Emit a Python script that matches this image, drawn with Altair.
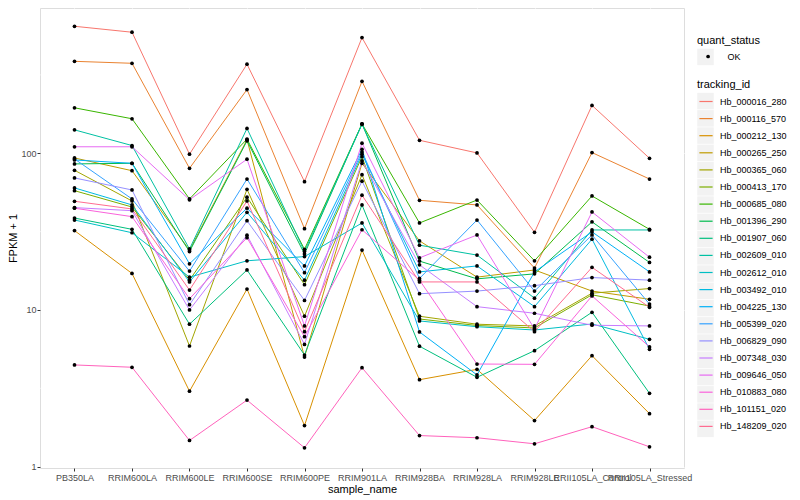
import altair as alt
import pandas as pd

samples = ["PB350LA", "RRIM600LA", "RRIM600LE", "RRIM600SE", "RRIM600PE", "RRIM901LA",
           "RRIM928BA", "RRIM928LA", "RRIM928LE", "RRII105LA_Control", "RRII105LA_Stressed"]

tracking_ids = ["Hb_000016_280", "Hb_000116_570", "Hb_000212_130", "Hb_000265_250",
                "Hb_000365_060", "Hb_000413_170", "Hb_000685_080", "Hb_001396_290",
                "Hb_001907_060", "Hb_002609_010", "Hb_002612_010", "Hb_003492_010",
                "Hb_004225_130", "Hb_005399_020", "Hb_006829_090", "Hb_007348_030",
                "Hb_009646_050", "Hb_010883_080", "Hb_101151_020", "Hb_148209_020"]

colors = ["#F8766D", "#EA8331", "#D89000", "#C09B00", "#A3A500", "#7CAE00", "#39B600",
          "#00BB4E", "#00BF7D", "#00C1A3", "#00BFC4", "#00BAE0", "#00B0F6", "#35A2FF",
          "#9590FF", "#C77CFF", "#E76BF3", "#FA62DB", "#FF62BC", "#FF6C91"]

hb_000016_280 = [646, 592, 98.6, 370, 65.9, 547, 121, 100.5, 31.3, 202, 92.9]
hb_000116_570 = [386, 375, 80.2, 255, 33.0, 288, 50.1, 46.8, 18.5, 101, 68.5]
hb_000212_130 = [32.1, 17.1, 3.03, 13.6, 1.83, 24.1, 3.59, 4.18, 1.97, 5.11, 2.18]
hb_000265_250 = [93.3, 77.4, 24.1, 122, 5.01, 86.3, 27.6, 16.2, 18.0, 13.2, 11.7]
hb_000365_060 = [77.9, 49.6, 5.89, 58.9, 9.12, 73.0, 9.12, 8.11, 7.91, 12.8, 13.7]
hb_000413_170 = [57.7, 45.4, 15.5, 52.4, 14.5, 95.1, 8.76, 7.96, 7.68, 12.5, 10.6]
hb_000685_080 = [195, 166, 51.1, 123, 24.4, 154, 35.9, 50.3, 20.6, 53.4, 32.7]
hb_001396_290 = [85.5, 86.3, 23.6, 120, 22.8, 154, 20.5, 15.8, 17.0, 36.5, 20.1]
hb_001907_060 = [38.6, 32.7, 8.11, 18.0, 5.16, 46.8, 5.87, 3.72, 5.50, 9.67, 2.94]
hb_002609_010 = [141, 112, 24.5, 144, 23.6, 153, 25.9, 22.4, 11.9, 32.4, 32.4]
hb_002612_010 = [37.5, 31.1, 16.2, 20.6, 21.9, 35.9, 8.51, 7.82, 7.45, 8.14, 6.50]
hb_003492_010 = [60.1, 46.8, 15.1, 42.0, 15.5, 98.6, 17.5, 19.1, 10.5, 28.3, 5.61]
hb_004225_130 = [90.6, 86.3, 19.7, 44.6, 19.1, 106, 7.24, 3.85, 17.5, 31.5, 17.5]
hb_005399_020 = [92.0, 51.1, 17.7, 68.5, 17.3, 102, 15.9, 37.5, 13.2, 30.1, 10.9]
hb_006829_090 = [69.6, 58.3, 10.8, 37.1, 11.5, 66.3, 12.7, 13.2, 14.3, 16.1, 15.5]
hb_007348_030 = [45.0, 43.0, 10.0, 30.0, 6.03, 89.3, 19.4, 10.5, 9.53, 7.99, 7.91]
hb_009646_050 = [110, 110, 50.5, 91.6, 7.91, 116, 21.5, 30.1, 7.57, 42.2, 21.7]
hb_010883_080 = [44.6, 39.4, 11.8, 28.9, 6.76, 32.5, 15.5, 4.52, 4.50, 12.3, 5.81]
hb_101151_020 = [4.46, 4.31, 1.47, 2.66, 1.32, 4.28, 1.58, 1.53, 1.40, 1.80, 1.34]
hb_148209_020 = [49.4, 44.1, 13.4, 49.6, 7.27, 54.0, 15.1, 15.1, 7.27, 18.7, 10.4]

series = [hb_000016_280, hb_000116_570, hb_000212_130, hb_000265_250, hb_000365_060,
          hb_000413_170, hb_000685_080, hb_001396_290, hb_001907_060, hb_002609_010,
          hb_002612_010, hb_003492_010, hb_004225_130, hb_005399_020, hb_006829_090,
          hb_007348_030, hb_009646_050, hb_010883_080, hb_101151_020, hb_148209_020]

major_breaks = [1, 10, 100]
minor_breaks = [3.1623, 31.623, 316.23]

rows = []
for tid, vals in zip(tracking_ids, series):
    for s, v in zip(samples, vals):
        rows.append({"sample_name": s, "tracking_id": tid, "fpkm1": v, "quant_status": "OK",
                     "tid_key": tid, "qs_key": "OK"})
df = pd.DataFrame(rows)
minor_df = pd.DataFrame({"v": minor_breaks})

FONT = "Liberation Sans"
KEY_GREY = "#F2F2F2"

x_enc = alt.X("sample_name:N", sort=samples,
              scale=alt.Scale(type="point", padding=0.6),
              axis=alt.Axis(title="sample_name", labelAngle=0, grid=True, gridColor="white",
                            gridWidth=1.07, domain=False, tickColor="#333333", tickSize=3,
                            tickWidth=1, labelColor="#4D4D4D", labelFontSize=9, labelPadding=2,
                            labelOverlap=False, labelFlush=False, labelBound=False,
                            titleFontSize=11, titleFontWeight="normal", titleColor="black",
                            titlePadding=1, labelFont=FONT, titleFont=FONT))
y_scale = alt.Scale(type="log", domain=[0.981, 845], nice=False)
y_enc = alt.Y("fpkm1:Q", scale=y_scale,
              axis=alt.Axis(title="FPKM + 1", values=major_breaks, format="d", grid=True,
                            gridColor="white", gridWidth=1.07, domain=False,
                            tickColor="#333333", tickSize=3, tickWidth=1,
                            labelColor="#4D4D4D", labelFontSize=9, labelPadding=1,
                            titleFontSize=11, titleFontWeight="normal", titleColor="black",
                            titlePadding=2, labelFont=FONT, titleFont=FONT))

common_legend = dict(orient="none", labelFontSize=9, labelColor="black", labelFont=FONT,
                     titleFont=FONT, titleFontSize=11, titleFontWeight="normal",
                     titleColor="black", padding=0)

minor = alt.Chart(minor_df).mark_rule(color="white", strokeWidth=0.55).encode(
    y=alt.Y("v:Q", scale=y_scale)
)

# grey key backgrounds (legend only, no marks drawn)
grey_tid = alt.Chart(df).transform_filter("false").mark_square(filled=True, opacity=1).encode(
    fill=alt.Fill("tid_key:N", sort=tracking_ids,
                  scale=alt.Scale(domain=tracking_ids, range=[KEY_GREY]),
                  legend=alt.Legend(title=None, legendX=657, legendY=84.6,
                                    symbolType="square", symbolSize=272, symbolStrokeWidth=0,
                                    symbolOpacity=1, rowPadding=0.25, labelExpr="''",
                                    labelOffset=0, zindex=0, **common_legend))
)
grey_qs = alt.Chart(df).transform_filter("false").mark_square(filled=True, opacity=1).encode(
    fill=alt.Fill("qs_key:N", scale=alt.Scale(domain=["OK"], range=[KEY_GREY]),
                  legend=alt.Legend(title=None, legendX=657, legendY=40.4,
                                    symbolType="square", symbolSize=272, symbolStrokeWidth=0,
                                    symbolOpacity=1, labelExpr="''", labelOffset=0,
                                    zindex=0, **common_legend))
)

lines = alt.Chart(df).mark_line(strokeWidth=1).encode(
    x=x_enc, y=y_enc,
    color=alt.Color("tracking_id:N", sort=tracking_ids,
                    scale=alt.Scale(domain=tracking_ids, range=colors),
                    legend=alt.Legend(title="tracking_id", legendX=657, legendY=71,
                                      symbolType="M-0.8,0H0.8", symbolSize=272,
                                      symbolStrokeWidth=1.2, rowPadding=3.1, titlePadding=2.5,
                                      labelOffset=5, zindex=1, **common_legend)),
)

points = alt.Chart(df).mark_point(filled=True, size=14, opacity=1, color="black").encode(
    x=alt.X("sample_name:N", sort=samples),
    y=alt.Y("fpkm1:Q"),
    shape=alt.Shape("quant_status:N", scale=alt.Scale(domain=["OK"], range=["circle"]),
                    legend=alt.Legend(title="quant_status", legendX=657, legendY=27,
                                      symbolSize=14, symbolFillColor="black",
                                      symbolStrokeColor="black", symbolOffset=6.6,
                                      titlePadding=6, labelOffset=15, zindex=1,
                                      **common_legend)),
)

chart = alt.layer(minor, grey_tid, grey_qs, lines, points).resolve_scale(
    fill="independent"
).properties(
    width=644, height=460,
    autosize=alt.AutoSizeParams(type="none"),
    padding={"left": 32, "top": 0, "right": 108, "bottom": 32},
).configure_view(fill="#EBEBEB", stroke=None).configure(font=FONT)

chart.save("out.html", embed_options={"renderer": "svg", "actions": False})
